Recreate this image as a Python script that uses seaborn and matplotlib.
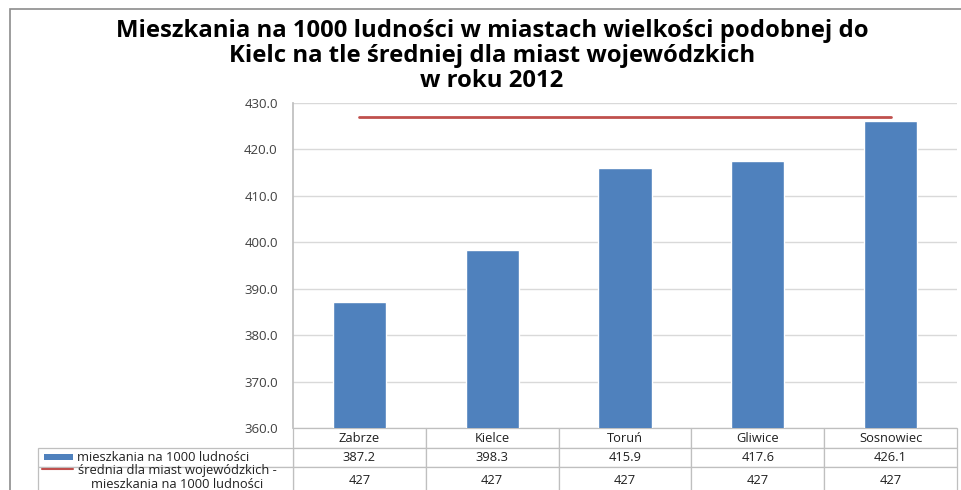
import numpy as np
import pandas as pd
import matplotlib
matplotlib.use("Agg")
import matplotlib.pyplot as plt
from matplotlib.patches import Rectangle
from matplotlib.lines import Line2D
import seaborn as sns

cities = ["Zabrze", "Kielce", "Toruń", "Gliwice", "Sosnowiec"]
flats_per_1000 = [387.2, 398.3, 415.9, 417.6, 426.1]
voiv_average = [427, 427, 427, 427, 427]

bar_label = "mieszkania na 1000 ludności"
line_label = "średnia dla miast wojewódzkich -\nmieszkania na 1000 ludności"
title = ("Mieszkania na 1000 ludności w miastach wielkości podobnej do\n"
         "Kielc na tle średniej dla miast wojewódzkich\nw roku 2012")

BLUE = "#4F81BD"
RED = "#C0504D"
GRID = "#D9D9D9"
TXT = "#404040"
EDGE = "#BFBFBF"


def style_table(tb, heights, fs=9.3):
    tb.auto_set_font_size(False)
    tb.set_fontsize(fs)
    for (r, c), cell in tb.get_celld().items():
        cell.set_edgecolor(EDGE)
        cell.set_linewidth(0.9)
        cell.get_text().set_color("#202020")
        cell.set_height(heights[r])


def main():
    sns.set_theme(style="white")
    plt.rcParams["font.family"] = ["Open Sans", "DejaVu Sans"]

    df = pd.DataFrame({"city": cities, "value": flats_per_1000, "avg": voiv_average})

    W, H = 961, 490
    ax_l, ax_r, ax_t, ax_b = 293, 957, 103, 428
    aw, ah = ax_r - ax_l, ax_b - ax_t
    fig = plt.figure(figsize=(W / 100, H / 100), dpi=100, facecolor="white")
    ax = fig.add_axes([ax_l / W, 1 - ax_b / H, aw / W, ah / H])

    sns.barplot(data=df, x="city", y="value", color=BLUE, width=0.4,
                saturation=1, ax=ax, zorder=3)
    ax.plot(np.arange(len(cities)), df["avg"], color=RED, lw=2, zorder=4)

    ax.set_ylim(360, 430)
    ax.set_xlim(-0.5, len(cities) - 0.5)
    ticks = np.arange(360, 431, 10)
    ax.set_yticks(ticks)
    ax.set_yticklabels([f"{v:.1f}" for v in ticks], fontsize=9.5, color=TXT)
    ax.yaxis.grid(True, color=GRID, lw=1, zorder=0)
    ax.tick_params(axis="y", length=0, pad=11)
    ax.set_xticks([])
    ax.set_xlabel("")
    ax.set_ylabel("")
    for s in ["top", "right", "bottom"]:
        ax.spines[s].set_visible(False)
    ax.spines["left"].set_color(EDGE)

    # data table under the plot
    rows_h = [20, 19, 26]
    cell_text = [[f"{v:.1f}" for v in flats_per_1000],
                 [f"{v:d}" for v in voiv_average]]
    tb = ax.table(cellText=cell_text, colLabels=cities, cellLoc="center",
                  bbox=[0, -sum(rows_h) / ah, 1, sum(rows_h) / ah])
    style_table(tb, rows_h)

    # row label column (legend keys + series names), left of the data table
    lab_w = ax_l - 38
    tl = ax.table(cellText=[[""], [""]], cellLoc="center",
                  bbox=[-lab_w / aw, -sum(rows_h) / ah,
                        lab_w / aw, sum(rows_h[1:]) / ah])
    style_table(tl, rows_h[1:])

    fig.text(77 / W, 1 - 457 / H, bar_label, ha="left", va="center",
             fontsize=9.3, color="#202020")
    fig.text(177 / W, 1 - 477 / H, line_label, ha="center", va="center",
             fontsize=9.3, color="#202020", linespacing=1.1)
    fig.add_artist(Rectangle((44 / W, 1 - 460 / H), 29 / W, 6 / H,
                             transform=fig.transFigure, color=BLUE, lw=0))
    fig.add_artist(Line2D([42 / W, 73 / W], [1 - 469 / H, 1 - 469 / H],
                          transform=fig.transFigure, color=RED, lw=1.5))

    fig.text(492 / W, 1 - 56 / H, title, ha="center", va="center",
             fontsize=17.2, fontweight="bold", linespacing=1.05, color="black")

    # outer chart frame
    fig.add_artist(Rectangle((9.5 / W, -0.1), 1.2, 1.1 - 9.5 / H,
                             transform=fig.transFigure, fill=False,
                             edgecolor="#8C8C8C", lw=1.2))

    fig.savefig("out.png", dpi=100, facecolor="white")
    plt.close(fig)


if __name__ == "__main__":
    main()
